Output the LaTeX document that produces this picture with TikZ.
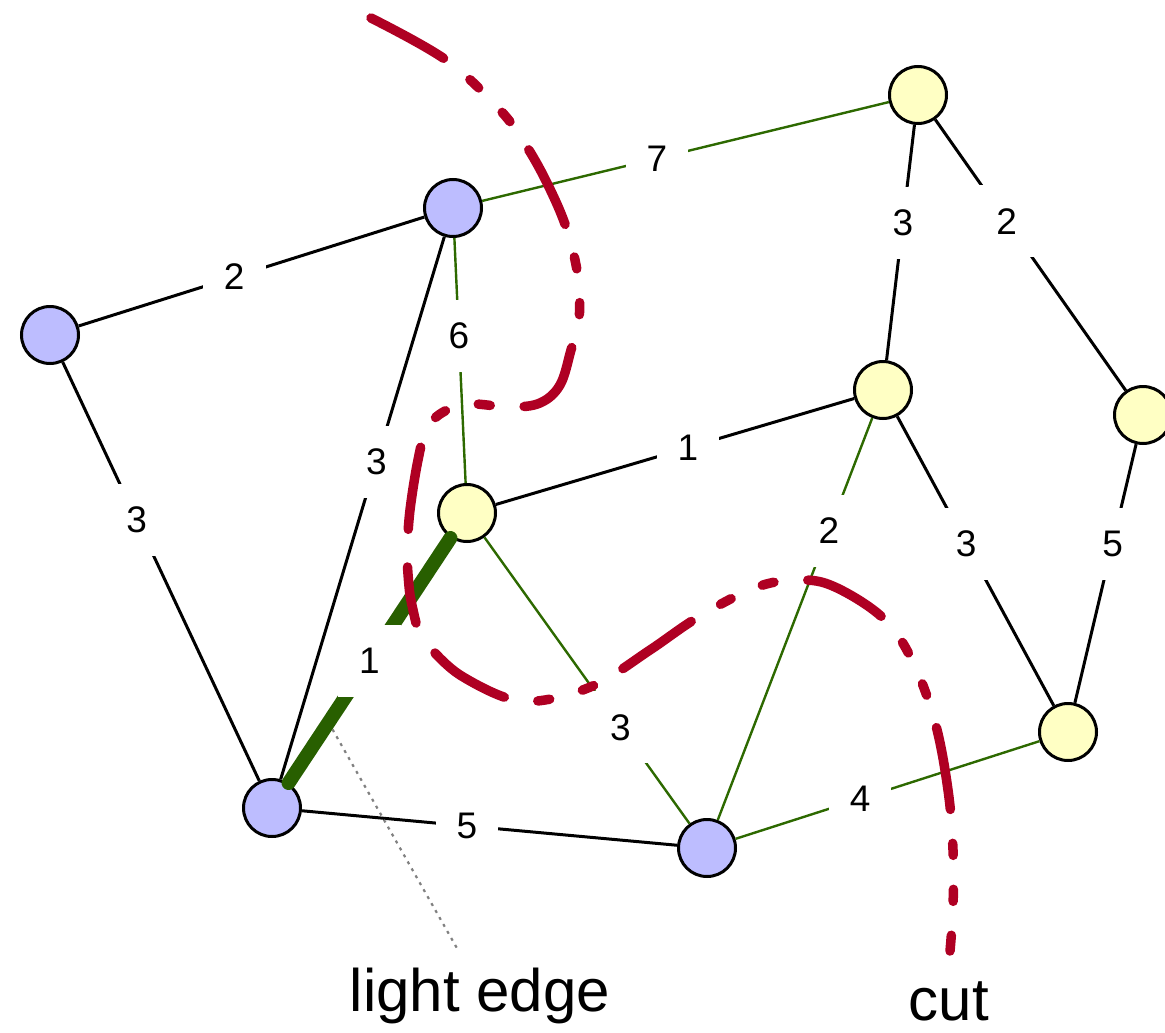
\documentclass[tikz,border=0pt]{standalone}
\usepackage{fontspec}
\setmainfont{Liberation Sans}
\usetikzlibrary{calc}
\definecolor{vblue}{RGB}{189,189,255}
\definecolor{vyellow}{RGB}{255,255,196}
\definecolor{egreen}{RGB}{45,105,0}
\definecolor{tgreen}{RGB}{40,95,0}
\definecolor{cutred}{RGB}{175,0,35}
\begin{document}
\begin{tikzpicture}[x=1pt,y=-1pt,
 vtx/.style={circle, draw=black, line width=3pt, minimum size=57pt, inner sep=0pt},
 bv/.style={vtx, fill=vblue},
 yv/.style={vtx, fill=vyellow},
 bedge/.style={draw=black, line width=3pt},
 gedge/.style={draw=egreen, line width=2.4pt},
 lightedge/.style={draw=tgreen, line width=14pt, line cap=round},
 wt/.style={fill=white, font=\fontsize{37}{40}\selectfont, text height=26pt, text depth=0pt, inner xsep=21pt, inner ysep=23pt, text=black},
 cutline/.style={draw=cutred, line width=9.5pt, line cap=round, dash pattern=on 83pt off 34pt on 12pt off 34pt on 12pt off 34pt},
 cutsolid/.style={draw=cutred, line width=9.5pt, line cap=round},
 pointer/.style={draw=gray, line width=2.2pt, dash pattern=on 3pt off 5pt},
 big/.style={font=\fontsize{60}{66}\selectfont, inner sep=0pt, anchor=base}
]
\path[use as bounding box, clip] (0,0) rectangle (1165,1033);

% vertices
\node[bv] (A) at (50,335) {};
\node[bv] (B) at (453,208) {};
\node[bv] (C) at (272,808) {};
\node[bv] (D) at (707,848) {};
\node[yv] (E) at (467,513) {};
\node[yv] (F) at (918,95) {};
\node[yv] (G) at (883,390) {};
\node[yv] (H) at (1143,415) {};
\node[yv] (I) at (1068,732) {};

% edges
\draw[bedge] (A) -- node[wt,pos=0.45]{2} (B);
\draw[bedge] (A) -- node[wt,pos=0.376]{3} (C);
\draw[bedge] (B) -- node[wt,pos=0.415]{3} (C);
\draw[gedge] (B) -- node[wt,pos=0.4]{6} (E);
\draw[gedge] (B) -- node[wt,pos=0.43]{7} (F);
\draw[bedge] (E) -- node[wt,pos=0.536]{1} (G);
\draw[gedge] (E) -- node[wt,pos=0.663]{3} (D);
\draw[gedge] (D) -- node[wt,pos=0.72]{2} (G);
\draw[bedge] (G) -- node[wt,pos=0.44]{3} (I);
\draw[bedge] (F) -- node[wt,pos=0.417]{3} (G);
\draw[bedge] (F) -- node[wt,pos=0.375]{2} (H);
\draw[bedge] (H) -- node[wt,pos=0.385]{5} (I);
\draw[bedge] (C) -- node[wt,pos=0.44]{5} (D);
\draw[gedge] (D) -- node[wt,pos=0.41]{4} (I);

% light edge pointer
\coordinate (lp) at ($(C)!0.29!(E)$);
\coordinate (lq) at (458,950);
\draw[pointer] (lp) -- (lq);
\draw[lightedge] (C) -- node[wt,pos=0.5]{1} (E);

% labels
\node[big] (lbl) at (480,1011) {light edge};
\node[big] (cutlbl) at (949,1020) {cut};

% cut
\draw[cutline] plot[smooth, tension=0.6] coordinates {(371,18) (446,60) (500,110) (527,147) (549,187) (567,230) (578,277) (579,320) (571,350) (560,385) (540,403) (510,407) (470,404) (445,411) (427,428) (418,460) (410,510) (407,550)};
\draw[cutsolid] plot[smooth] coordinates {(407.5,567) (410,595) (416,623)};
\draw[cutline] plot[smooth, tension=0.6] coordinates {(435,653) (460,675) (507,698) (545,700) (597,684) (650,650) (700,616) (757,587) (800,580) (835,587) (883,618) (912,660) (935,722) (948,790) (953,850) (953,907) (950,951)};
\end{tikzpicture}
\end{document}
